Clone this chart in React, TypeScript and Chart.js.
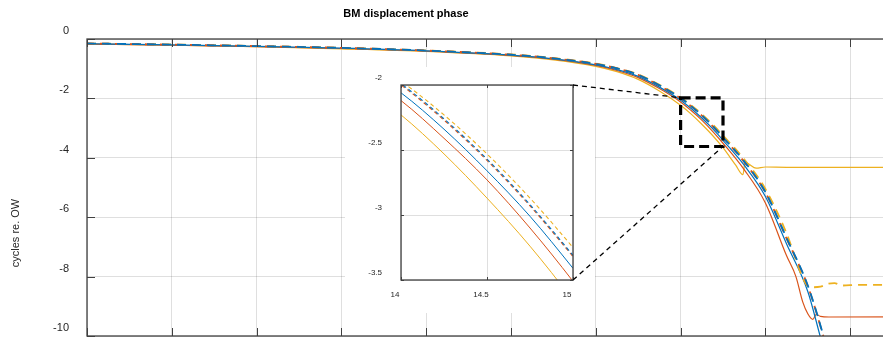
import React, { useEffect, useRef } from "react";
import { Chart, registerables } from "chart.js";
Chart.register(...registerables);

const FONT = '"Liberation Sans", Arial, Helvetica, sans-serif';
const TEXT = "#262626";
const AXIS = "#404040";
const GRID = "rgba(38,38,38,0.15)";
const BLUE = "#0072BD";
const RED = "#D95319";
const YELLOW = "#EDB120";

const chartTitle = "BM displacement phase";
const yAxisTitle = "cycles re. OW";

const mainXTicks = [0, 2, 4, 6, 8, 10, 12, 14, 16, 18, 20];
const mainYTicks = [0, -2, -4, -6, -8, -10];
const insetXTicks = [14, 14.5, 15];
const insetYTicks = [-2, -2.5, -3, -3.5];
const zoomBoxX = [14, 15];
const zoomBoxY = [-1.98, -3.62];

type P = [number, number];

const blueDashed: P[] = [
  [0, -0.15], [2, -0.19], [4, -0.24], [6, -0.3], [8, -0.39], [10, -0.53], [11, -0.65],
  [12, -0.84], [12.5, -0.99], [13, -1.21], [13.5, -1.56], [14, -1.99], [14.25, -2.26],
  [14.5, -2.57], [14.75, -2.92], [15, -3.31], [15.5, -4.12], [16, -5.15], [16.5, -6.7],
  [17, -8.3], [17.37, -10.0], [17.6, -11.2],
];
const redDashed: P[] = [
  [0, -0.15], [2, -0.19], [4, -0.24], [6, -0.3], [8, -0.39], [10, -0.53], [11, -0.65],
  [12, -0.84], [12.5, -0.99], [13, -1.21], [13.5, -1.57], [14, -2.0], [14.25, -2.27],
  [14.5, -2.58], [14.75, -2.93], [15, -3.32], [15.5, -4.14], [16, -5.17], [16.5, -6.72],
  [17, -8.32], [17.37, -10.02], [17.6, -11.2],
];
const yellowDashed: P[] = [
  [0, -0.15], [2, -0.185], [4, -0.235], [6, -0.295], [8, -0.385], [10, -0.52], [11, -0.64],
  [12, -0.83], [12.5, -0.98], [13, -1.19], [13.5, -1.54], [14, -1.97], [14.25, -2.23],
  [14.5, -2.53], [14.75, -2.87], [15, -3.25], [15.5, -4.05], [16, -5.05], [16.5, -6.55],
  [16.9, -8.1], [17.05, -8.36], [17.3, -8.34], [17.45, -8.25], [17.63, -8.22], [17.8, -8.3],
  [18.2, -8.28], [20, -8.28],
];
const blueSolid: P[] = [
  [0, -0.16], [2, -0.2], [4, -0.25], [6, -0.31], [8, -0.4], [10, -0.545], [11, -0.67],
  [12, -0.87], [12.5, -1.03], [13, -1.26], [13.5, -1.62], [14, -2.06], [14.25, -2.34],
  [14.5, -2.66], [14.75, -3.01], [15, -3.41], [15.5, -4.25], [16, -5.3], [16.5, -6.9],
  [17, -8.5], [17.29, -10.0], [17.5, -11.1],
];
const redSolid: P[] = [
  [0, -0.17], [2, -0.21], [4, -0.26], [6, -0.32], [8, -0.41], [10, -0.555], [11, -0.68],
  [12, -0.89], [12.5, -1.06], [13, -1.3], [13.5, -1.67], [14, -2.12], [14.25, -2.41],
  [14.5, -2.73], [14.75, -3.1], [15, -3.51], [15.5, -4.4], [16, -5.52], [16.5, -7.3],
  [16.72, -8.0], [16.88, -8.85], [17.0, -9.25], [17.12, -9.44], [17.2, -9.27], [17.3, -9.34],
  [17.5, -9.36], [20, -9.35],
];
const yellowSolid: P[] = [
  [0, -0.17], [2, -0.21], [4, -0.26], [6, -0.33], [8, -0.42], [10, -0.57], [11, -0.7],
  [12, -0.92], [12.5, -1.1], [13, -1.36], [13.5, -1.75], [14, -2.23], [14.25, -2.53],
  [14.5, -2.87], [14.75, -3.24], [15, -3.66], [15.15, -3.95], [15.3, -4.25], [15.47, -4.57],
  [15.52, -4.15], [15.6, -4.2], [15.78, -4.35], [16, -4.31], [16.5, -4.32], [20, -4.32],
];

function makeDatasets(inset: boolean) {
  const solidW = inset ? 1 : 1.2;
  const dashW = inset ? 1.1 : 1.8;
  const dash = inset ? [4, 3] : [9, 6];
  const mk = (data: P[], color: string, dashed: boolean, order: number, offset = 0) => ({
    data: data.map(([x, y]) => ({ x, y })),
    borderColor: color,
    backgroundColor: color,
    borderWidth: dashed ? dashW : solidW,
    borderDash: dashed ? dash : [],
    borderDashOffset: offset,
    pointRadius: 0,
    fill: false,
    cubicInterpolationMode: "monotone" as const,
    clip: 0,
    order,
  });
  return [
    mk(blueDashed, BLUE, true, 0, 0),
    mk(redDashed, RED, true, 1, inset ? 1.5 : 2),
    mk(yellowDashed, YELLOW, true, 2),
    mk(blueSolid, BLUE, false, 3),
    mk(redSolid, RED, false, 4),
    mk(yellowSolid, YELLOW, false, 5),
  ];
}

export default function App() {
  const mainRef = useRef<HTMLCanvasElement | null>(null);
  const insetRef = useRef<HTMLCanvasElement | null>(null);

  useEffect(() => {
    if (!mainRef.current || !insetRef.current) return;

    const mainDeco = {
      id: "mainDeco",
      afterDatasetsDraw(chart: any) {
        const { ctx, chartArea: a, scales } = chart;
        const x = scales.x;
        const y = scales.y;
        ctx.save();
        ctx.strokeStyle = AXIS;
        ctx.lineWidth = 1;
        ctx.setLineDash([]);
        ctx.beginPath();
        mainXTicks.forEach((v) => {
          const px = Math.round(x.getPixelForValue(v)) + 0.5;
          ctx.moveTo(px, a.top);
          ctx.lineTo(px, a.top + 8);
          ctx.moveTo(px, a.bottom);
          ctx.lineTo(px, a.bottom - 8);
        });
        mainYTicks.forEach((v) => {
          const py = Math.round(y.getPixelForValue(v)) + 0.5;
          ctx.moveTo(a.left, py);
          ctx.lineTo(a.left + 8, py);
        });
        ctx.stroke();
        ctx.lineWidth = 1.3;
        ctx.strokeRect(a.left, a.top, a.right - a.left, a.bottom - a.top);
        const bx0 = x.getPixelForValue(zoomBoxX[0]);
        const bx1 = x.getPixelForValue(zoomBoxX[1]);
        const by0 = y.getPixelForValue(zoomBoxY[0]);
        const by1 = y.getPixelForValue(zoomBoxY[1]);
        ctx.strokeStyle = "#000";
        ctx.lineWidth = 3.2;
        ctx.setLineDash([10, 5]);
        ctx.strokeRect(bx0, by0, bx1 - bx0, by1 - by0);
        ctx.restore();
      },
      afterDraw(chart: any) {
        const { ctx } = chart;
        ctx.save();
        ctx.fillStyle = "#000";
        ctx.font = `bold 11px ${FONT}`;
        ctx.textAlign = "center";
        ctx.textBaseline = "middle";
        ctx.fillText(chartTitle, 406, 14);
        ctx.fillStyle = TEXT;
        ctx.font = `11px ${FONT}`;
        ctx.translate(16, 233);
        ctx.rotate(-Math.PI / 2);
        ctx.fillText(yAxisTitle, 0, 0);
        ctx.restore();
      },
    };

    const main = new Chart(mainRef.current, {
      type: "line",
      data: { datasets: makeDatasets(false) as any },
      options: {
        animation: false,
        responsive: false,
        maintainAspectRatio: false,
        events: [],
        layout: { padding: { top: 39, left: 0, right: 5, bottom: 0 } },
        plugins: { legend: { display: false }, tooltip: { enabled: false }, title: { display: false } },
        scales: {
          x: {
            type: "linear",
            min: 0,
            max: 20,
            afterBuildTicks: (s: any) => {
              s.ticks = mainXTicks.map((v) => ({ value: v }));
            },
            afterFit: (s: any) => {
              s.height = 3;
              s.paddingLeft = 0;
              s.paddingRight = 0;
            },
            ticks: { display: false },
            grid: { color: GRID, drawTicks: false, lineWidth: 1 },
            border: { display: false },
          },
          y: {
            type: "linear",
            min: -10,
            max: 0,
            afterBuildTicks: (s: any) => {
              s.ticks = mainYTicks.map((v) => ({ value: v }));
            },
            afterFit: (s: any) => {
              s.width = 87;
              s.paddingTop = 0;
              s.paddingBottom = 0;
            },
            ticks: {
              color: TEXT,
              font: { family: FONT, size: 11 },
              padding: 18,
              labelOffset: -8,
              callback: (v: any) => String(v),
            },
            grid: { color: GRID, drawTicks: false, lineWidth: 1 },
            border: { display: false },
          },
        },
      } as any,
      plugins: [mainDeco],
    });

    const insetDeco = {
      id: "insetDeco",
      beforeDraw(chart: any) {
        const { ctx, chartArea: a } = chart;
        ctx.save();
        ctx.fillStyle = "#fff";
        ctx.fillRect(a.left - 56, a.top - 18, a.right - a.left + 78, a.bottom - a.top + 51);
        ctx.restore();
      },
      afterDatasetsDraw(chart: any) {
        const { ctx, chartArea: a, scales } = chart;
        const x = scales.x;
        const y = scales.y;
        ctx.save();
        ctx.strokeStyle = AXIS;
        ctx.lineWidth = 1;
        ctx.beginPath();
        insetXTicks.forEach((v) => {
          const px = Math.round(x.getPixelForValue(v)) + 0.5;
          ctx.moveTo(px, a.top);
          ctx.lineTo(px, a.top + 3);
          ctx.moveTo(px, a.bottom);
          ctx.lineTo(px, a.bottom - 3);
        });
        insetYTicks.forEach((v) => {
          const py = Math.round(y.getPixelForValue(v)) + 0.5;
          ctx.moveTo(a.left, py);
          ctx.lineTo(a.left + 3, py);
          ctx.moveTo(a.right, py);
          ctx.lineTo(a.right - 3, py);
        });
        ctx.stroke();
        ctx.lineWidth = 1.3;
        ctx.strokeRect(a.left, a.top, a.right - a.left, a.bottom - a.top);
        ctx.restore();
      },
      afterDraw(chart: any) {
        const { ctx, chartArea: a } = chart;
        const mx = main.scales.x;
        const my = main.scales.y;
        ctx.save();
        ctx.strokeStyle = "#000";
        ctx.lineWidth = 1.3;
        ctx.setLineDash([5, 4]);
        ctx.beginPath();
        ctx.moveTo(a.right, a.top);
        ctx.lineTo(mx.getPixelForValue(zoomBoxX[0]), my.getPixelForValue(zoomBoxY[0]));
        ctx.moveTo(a.right, a.bottom);
        ctx.lineTo(mx.getPixelForValue(zoomBoxX[1]), my.getPixelForValue(zoomBoxY[1]));
        ctx.stroke();
        ctx.restore();
      },
    };

    const inset = new Chart(insetRef.current, {
      type: "line",
      data: { datasets: makeDatasets(true) as any },
      options: {
        animation: false,
        responsive: false,
        maintainAspectRatio: false,
        events: [],
        layout: { padding: { left: 345, top: 85, right: 310, bottom: 26 } },
        plugins: { legend: { display: false }, tooltip: { enabled: false }, title: { display: false } },
        scales: {
          x: {
            type: "linear",
            min: 14,
            max: 15,
            afterBuildTicks: (s: any) => {
              s.ticks = insetXTicks.map((v) => ({ value: v }));
            },
            afterFit: (s: any) => {
              s.height = 33;
              s.paddingLeft = 0;
              s.paddingRight = 0;
            },
            ticks: {
              color: TEXT,
              font: { family: FONT, size: 8 },
              padding: 10,
              labelOffset: -6,
              maxRotation: 0,
              callback: (v: any) => String(v),
            },
            grid: { color: GRID, drawTicks: false, lineWidth: 1 },
            border: { display: false },
          },
          y: {
            type: "linear",
            min: -3.5,
            max: -2,
            afterBuildTicks: (s: any) => {
              s.ticks = insetYTicks.map((v) => ({ value: v }));
            },
            afterFit: (s: any) => {
              s.width = 56;
              s.paddingTop = 0;
              s.paddingBottom = 0;
            },
            ticks: {
              color: TEXT,
              font: { family: FONT, size: 8 },
              padding: 19,
              labelOffset: -7,
              callback: (v: any) => String(v),
            },
            grid: { color: GRID, drawTicks: false, lineWidth: 1 },
            border: { display: false },
          },
        },
      } as any,
      plugins: [insetDeco],
    });

    return () => {
      inset.destroy();
      main.destroy();
    };
  }, []);

  return (
    <div
      style={{
        position: "fixed",
        left: 0,
        top: 0,
        width: 883,
        height: 339,
        overflow: "hidden",
        background: "#fff",
      }}
    >
      <canvas
        ref={mainRef}
        width={940}
        height={339}
        style={{ position: "absolute", left: 0, top: 0, width: 940, height: 339 }}
      />
      <canvas
        ref={insetRef}
        width={883}
        height={339}
        style={{ position: "absolute", left: 0, top: 0, width: 883, height: 339 }}
      />
    </div>
  );
}
